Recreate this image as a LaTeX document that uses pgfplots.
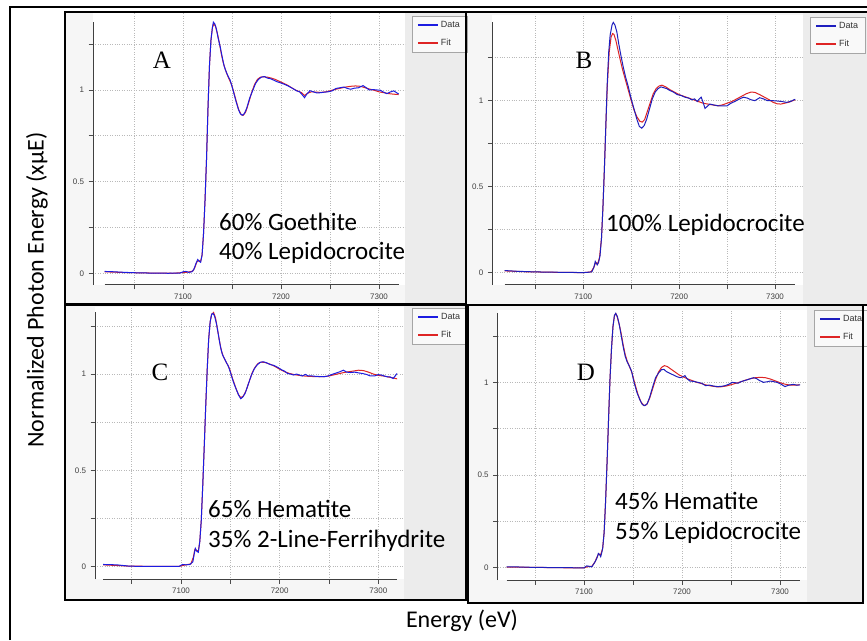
\documentclass[border=0pt]{standalone}
\usepackage{pgfplots}
\pgfplotsset{compat=1.18}
\usepackage{fontspec}
\setmainfont{Carlito}
\newfontfamily\tickfont{Liberation Sans}
\newfontfamily\letterfont{Liberation Serif}

\definecolor{datablue}{RGB}{28,28,225}
\definecolor{datanavy}{RGB}{30,30,190}
\definecolor{fitred}{RGB}{222,36,36}
\definecolor{panelgray}{RGB}{246,246,246}
\definecolor{stripgray}{RGB}{236,236,236}
\definecolor{gridgray}{RGB}{185,185,185}

% XANES spectra: one table per series (energy in eV, normalized absorption)
\pgfplotstableread{
E mu
7020 0.010
7030 0.008
7040 0.005
7055 0.002
7070 0.001
7085 0.0
7097 0.001
7100 0.008
7103 0.010
7106 0.005
7109 0.008
7111 0.02
7113 0.05
7115 0.075
7116.5 0.065
7118 0.06
7119.5 0.10
7121 0.22
7122.5 0.40
7124 0.62
7125.5 0.90
7127 1.13
7128.5 1.27
7130 1.34
7131 1.37
7132.5 1.36
7134 1.335
7136 1.28
7138 1.235
7140 1.18
7142 1.13
7144 1.10
7146 1.075
7148 1.055
7150 1.02
7152 0.98
7154 0.94
7156.5 0.895
7158.5 0.87
7160.5 0.862
7162.5 0.87
7165 0.90
7168 0.955
7171 0.995
7174 1.035
7177 1.058
7180 1.07
7183 1.073
7186 1.065
7189 1.062
7192 1.055
7196 1.045
7200 1.038
7204 1.03
7208 1.02
7212 1.008
7216 0.995
7219 0.99
7221.5 0.975
7224 0.958
7226 0.975
7229.5 0.996
7233 0.99
7236.5 0.984
7240 0.985
7244 0.988
7248 0.99
7252 0.995
7256 1.008
7260 1.012
7264 1.016
7268 1.008
7271 1.004
7275 1.01
7279 1.012
7283.7 1.024
7287 1.012
7290 1.0
7294 1.002
7298 1.0
7301 0.999
7304 0.99
7308 0.98
7312 0.99
7315 0.995
7318 0.985
7320 0.978
}\dataA
\pgfplotstableread{
E mu
7020 0.008
7040 0.004
7070 0.001
7090 0.0
7100 0.004
7105 0.006
7110 0.012
7112 0.03
7114 0.06
7116 0.07
7118 0.065
7119.5 0.10
7121 0.22
7122.5 0.40
7124 0.62
7125.5 0.90
7127 1.13
7128.5 1.27
7130 1.34
7131.5 1.36
7133 1.35
7135 1.31
7137 1.26
7139 1.20
7141 1.15
7143 1.115
7145 1.085
7147 1.06
7149.5 1.03
7152 0.985
7154.5 0.935
7157 0.89
7159.5 0.865
7161.5 0.862
7164 0.88
7167 0.93
7170 0.985
7173 1.03
7176 1.058
7179 1.07
7182 1.072
7186 1.07
7190 1.065
7194 1.058
7198 1.048
7202 1.038
7206 1.028
7210 1.015
7214 1.002
7218 0.992
7221 0.985
7224 0.97
7227 0.982
7231 0.99
7236 0.988
7241 0.987
7246 0.99
7251 0.997
7256 1.004
7261 1.01
7266 1.016
7271 1.02
7276 1.022
7281 1.02
7286 1.012
7291 1.004
7296 0.997
7300 0.99
7305 0.985
7310 0.98
7315 0.977
7320 0.975
}\fitA
\pgfplotstableread{
E mu
7018 0.012
7030 0.008
7045 0.005
7060 0.003
7075 0.002
7090 0.001
7100 0.000
7105 0.002
7109 0.005
7111 0.03
7112.5 0.065
7114.5 0.045
7116 0.06
7117.5 0.10
7119 0.20
7120.5 0.38
7122 0.60
7123.5 0.85
7125 1.10
7126.5 1.28
7128 1.38
7130 1.44
7131.3 1.455
7133 1.44
7135 1.40
7137 1.33
7139 1.27
7141.5 1.20
7144 1.14
7147 1.08
7150 1.01
7153 0.95
7156 0.89
7158.5 0.85
7161 0.84
7163.5 0.855
7166 0.89
7169 0.95
7172 1.01
7175 1.05
7178 1.07
7181 1.08
7184 1.075
7187 1.07
7190 1.06
7194 1.05
7198 1.035
7202 1.03
7206 1.02
7210 1.015
7213 1.005
7216 1.01
7219 0.995
7221 1.01
7223 1.02
7225 0.99
7227 0.955
7229 0.965
7232 0.98
7236 0.975
7241 0.97
7246 0.97
7250 0.97
7254 0.985
7258 0.995
7263 1.01
7267 1.02
7271 1.015
7275 1.005
7279 1.0
7284 1.017
7288 1.01
7292 1.0
7297 1.0
7302 0.998
7307 0.995
7312 0.99
7316 0.995
7321 1.008
}\dataB
\pgfplotstableread{
E mu
7018 0.010
7040 0.005
7070 0.002
7100 0.000
7108 0.004
7111 0.03
7113 0.06
7115 0.05
7117 0.09
7119 0.20
7120.5 0.38
7122 0.60
7123.5 0.85
7125 1.08
7127 1.28
7129 1.37
7130.6 1.39
7132 1.385
7134 1.35
7136 1.30
7138 1.25
7141 1.18
7144 1.12
7147 1.06
7150 1.00
7153 0.945
7156 0.905
7159 0.88
7161.5 0.875
7164 0.89
7167 0.94
7170 0.99
7173 1.04
7176 1.07
7179 1.085
7182 1.09
7186 1.08
7190 1.065
7195 1.05
7200 1.035
7205 1.025
7210 1.015
7215 1.005
7220 0.995
7225 0.985
7230 0.98
7235 0.975
7240 0.97
7245 0.975
7250 0.985
7255 0.995
7260 1.01
7265 1.025
7270 1.04
7275 1.05
7279 1.048
7284 1.035
7289 1.02
7294 1.005
7298 0.99
7302 0.982
7306 0.98
7310 0.985
7315 0.992
7321 1.005
}\fitB
\pgfplotstableread{
E mu
7021 0.012
7035 0.010
7048 0.003
7065 0.002
7085 0.002
7098 0.002
7101.5 0.012
7105 0.010
7109 0.012
7112 0.026
7113.5 0.07
7114.5 0.095
7116 0.08
7117.5 0.075
7119 0.13
7120.5 0.24
7122 0.42
7123.5 0.62
7125 0.83
7126.5 1.02
7128 1.18
7129.5 1.27
7131 1.31
7132.5 1.315
7134 1.30
7136 1.26
7138 1.20
7140 1.14
7142 1.10
7144 1.08
7146 1.06
7148 1.04
7150 1.01
7153 0.96
7156 0.92
7158.5 0.89
7160.5 0.872
7162.5 0.88
7165 0.90
7168 0.945
7171 0.99
7174 1.025
7177 1.047
7180 1.06
7183 1.064
7186 1.06
7190 1.05
7194 1.045
7198 1.035
7202 1.022
7205 1.015
7208 1.003
7211 1.0
7214 0.995
7217 1.0
7220 0.995
7223 0.99
7226 0.998
7229 0.99
7233 0.99
7237 0.988
7241 0.987
7245 0.986
7249 0.99
7253 0.998
7257 1.005
7261 1.012
7264.5 1.02
7268 1.01
7272 1.008
7276 1.01
7280 1.006
7284 1.003
7288 0.998
7292 0.99
7296 0.99
7300 0.997
7303 0.995
7306 0.99
7309 0.986
7312 0.985
7315 0.977
7317 0.99
7319 1.003
}\dataC
\pgfplotstableread{
E mu
7021 0.010
7045 0.004
7070 0.002
7098 0.002
7103 0.008
7110 0.015
7112.5 0.05
7114 0.09
7116 0.085
7117.5 0.08
7119 0.13
7120.5 0.24
7122 0.42
7123.5 0.62
7125 0.83
7126.5 1.02
7128 1.18
7129.5 1.27
7131 1.31
7133 1.32
7135 1.29
7137 1.23
7139 1.17
7141 1.12
7143 1.09
7146 1.06
7149 1.03
7152 0.98
7155 0.935
7158 0.895
7160.5 0.878
7163 0.885
7166 0.915
7169 0.96
7172 1.005
7175 1.035
7178 1.055
7181 1.062
7185 1.06
7190 1.052
7195 1.04
7200 1.025
7205 1.012
7210 1.003
7215 0.997
7220 0.993
7225 0.99
7230 0.988
7235 0.987
7240 0.986
7245 0.987
7250 0.99
7255 0.996
7260 1.002
7265 1.008
7270 1.012
7275 1.016
7280 1.02
7285 1.018
7290 1.01
7295 1.0
7300 0.993
7305 0.99
7310 0.985
7315 0.98
7319 0.975
}\fitC
\pgfplotstableread{
E mu
7021 0.005
7035 0.004
7050 0.002
7070 0.001
7090 0.0
7100 0.0
7102.7 0.01
7105 0.008
7108 0.005
7111 0.03
7113 0.05
7114.6 0.077
7116 0.07
7117 0.06
7118 0.08
7119 0.104
7120.5 0.19
7122 0.36
7123.5 0.57
7125 0.80
7126.5 1.02
7128 1.18
7129.5 1.30
7131 1.36
7132.3 1.372
7134 1.355
7136 1.31
7138 1.25
7140 1.19
7142 1.14
7144 1.11
7146 1.09
7148.5 1.06
7151 1.00
7154 0.945
7157 0.905
7159.5 0.88
7162 0.874
7164.5 0.885
7167 0.92
7170 0.975
7173 1.025
7176 1.05
7179 1.068
7181.5 1.07
7184 1.058
7187 1.05
7191 1.04
7195 1.03
7198 1.025
7201 1.03
7203 1.036
7205 1.02
7208 1.007
7212 1.005
7216 1.0
7220 0.995
7224 0.982
7228 0.985
7232 0.98
7236 0.977
7240 0.978
7244 0.982
7248 0.99
7251 1.0
7254 0.998
7257 0.995
7261 1.005
7266 1.013
7270 1.02
7273 1.025
7276 1.02
7279 1.01
7283 1.0
7287 1.003
7290 1.007
7294 1.003
7297 1.0
7301 0.99
7305 0.977
7309 0.985
7313.6 0.989
7317 0.985
7320.4 0.986
}\dataD
\pgfplotstableread{
E mu
7021 0.004
7050 0.002
7080 0.0
7100 0.0
7104 0.006
7108 0.008
7111 0.03
7113 0.055
7115 0.075
7117 0.07
7119 0.105
7120.5 0.19
7122 0.36
7123.5 0.57
7125 0.80
7126.5 1.02
7128 1.18
7129.5 1.30
7131 1.36
7132.5 1.37
7134 1.35
7136 1.31
7138 1.26
7140 1.20
7142 1.15
7144 1.115
7146 1.09
7149 1.05
7152 0.99
7155 0.935
7158 0.895
7161 0.875
7164 0.88
7167 0.915
7170 0.965
7173 1.015
7176 1.055
7179 1.08
7182 1.09
7185 1.085
7189 1.07
7193 1.055
7197 1.04
7201 1.03
7205 1.02
7210 1.01
7215 1.0
7220 0.993
7225 0.985
7230 0.98
7235 0.976
7240 0.976
7245 0.98
7250 0.987
7255 0.995
7260 1.003
7265 1.012
7270 1.02
7275 1.025
7280 1.027
7285 1.025
7290 1.018
7295 1.008
7300 0.998
7305 0.99
7310 0.985
7315 0.985
7320 0.986
}\fitD

\tikzset{
  axisline/.style={black!75, line width=1pt},
  letter/.style={font=\letterfont\fontsize{25}{25}\selectfont},
  mix/.style={anchor=base west, inner sep=0pt, font=\fontsize{25}{29}\selectfont},
}

\pgfplotsset{
  xanes/.style={
    scale only axis,
    anchor=south west,
    clip=false,
    axis background/.style={fill=white},
    axis line style={draw=none},
    tick align=outside,
    xtick pos=bottom, ytick pos=left,
    xtick={7100,7200,7300}, xticklabels={7100,7200,7300},
    minor xtick={7050,7150,7250},
    ytick={0,0.5,1}, yticklabels={0,0.5,1},
    minor ytick={0.25,0.75,1.25},
    grid=both,
    major grid style={gridgray, dotted, line width=0.6pt},
    minor grid style={gridgray, dotted, line width=0.6pt},
    major tick length=4.5pt, minor tick length=4.5pt,
    every tick/.style={black!70, line width=0.7pt},
    every minor tick/.style={black!70, line width=0.7pt},
    tick label style={font=\tickfont\fontsize{8}{9}\selectfont, text=black!75},
    xticklabel style={yshift=-1pt},
    yticklabel style={xshift=-1pt},
    reverse legend,
    legend cell align=left,
    legend image code/.code={\draw[#1, line width=1.8pt] (0pt,0pt) -- (20pt,0pt);},
    legend style={anchor=north west, draw=gray!70, fill=gray!5,
      font=\tickfont\fontsize{9}{10}\selectfont, text=black!80,
      inner xsep=5pt, inner ysep=3pt, row sep=6pt},
  },
  fitline/.style={fitred, line width=1pt},
  dataline/.style={datablue, line width=1pt},
  datanavyline/.style={datanavy, line width=1pt},
}

\begin{document}
\begin{tikzpicture}[x=1pt, y=1pt]
\clip (0,0) rectangle (867,640);

% panel backgrounds with the grey strip that holds each legend
\fill[panelgray] (65,336) rectangle (466,628);
\fill[stripgray] (405,336) rectangle (466,628);
\fill[panelgray] (466,335) rectangle (867,628);
\fill[stripgray] (803,335) rectangle (867,628);
\fill[panelgray] (65,40) rectangle (466,335);
\fill[stripgray] (404,40) rectangle (466,335);
\fill[panelgray] (468,37) rectangle (863,335);
\fill[stripgray] (806.7,37) rectangle (863,335);

% A
\begin{axis}[xanes, at={(93pt,355pt)}, width=312pt, height=272pt,
  xmin=7008.2, xmax=7326.5, ymin=-0.064, ymax=1.42,
  legend style={at={(1.022,0.989)}}]
\addplot[fitline] table[x=E, y=mu] {\fitA};
\addplot[dataline] table[x=E, y=mu] {\dataA};
\legend{Fit, Data}
\draw[axisline] (axis cs:7008.2,-0.064) -- (axis cs:7008.2,1.37);
\draw[axisline] (axis cs:7020,-0.064) -- (axis cs:7320,-0.064);
\end{axis}

% B
\begin{axis}[xanes, at={(492.3pt,355pt)}, width=310.7pt, height=270pt,
  xmin=7005.1, xmax=7329.2, ymin=-0.072, ymax=1.498,
  legend style={at={(1.0225,0.993)}}]
\addplot[fitline] table[x=E, y=mu] {\fitB};
\addplot[datanavyline] table[x=E, y=mu] {\dataB};
\legend{Fit, Data}
\draw[axisline] (axis cs:7005.1,-0.072) -- (axis cs:7005.1,1.455);
\draw[axisline] (axis cs:7018,-0.072) -- (axis cs:7321,-0.072);
\end{axis}

% C
\begin{axis}[xanes, at={(95pt,60.7pt)}, width=309pt, height=272.3pt,
  xmin=7012.8, xmax=7326, ymin=-0.065, ymax=1.348,
  legend style={at={(1.026,0.996)}}]
\addplot[fitline] table[x=E, y=mu] {\fitC};
\addplot[dataline] table[x=E, y=mu] {\dataC};
\legend{Fit, Data}
\draw[axisline] (axis cs:7012.8,-0.065) -- (axis cs:7012.8,1.32);
\draw[axisline] (axis cs:7021,-0.065) -- (axis cs:7319,-0.065);
\end{axis}

% D
\begin{axis}[xanes, at={(497.7pt,60pt)}, width=309pt, height=270pt,
  xmin=7011.9, xmax=7327.2, ymin=-0.066, ymax=1.39,
  legend style={at={(1.0236,1.0)}}]
\addplot[fitline] table[x=E, y=mu] {\fitD};
\addplot[datanavyline] table[x=E, y=mu] {\dataD};
\legend{Fit, Data}
\draw[axisline] (axis cs:7011.9,-0.066) -- (axis cs:7011.9,1.375);
\draw[axisline] (axis cs:7021,-0.066) -- (axis cs:7320,-0.066);
\end{axis}

% panel frames and outer frame
\draw[black, line width=1.8pt] (65,336) rectangle (466,628);
\draw[black, line width=1.8pt] (466,335) -- (466,628) -- (867,628);
\draw[black, line width=1.8pt] (466,335) -- (867,335);
\draw[black, line width=1.8pt] (65,40) rectangle (466,335);
\draw[black, line width=1.8pt] (468,37) rectangle (863,335);
\draw[black, line width=2.5pt] (10,0) -- (10,633) -- (867,633);

% panel letters
\node[letter] at (162,580) {A};
\node[letter] at (584,580) {B};
\node[letter] at (160,268) {C};
\node[letter] at (586,268) {D};

% fitted compositions
\node[mix] at (219,409) {60\% Goethite};
\node[mix] at (219,380) {40\% Lepidocrocite};
\node[mix] at (606,408) {100\% Lepidocrocite};
\node[mix] at (208,122) {65\% Hematite};
\node[mix] at (208,93) {35\% 2-Line-Ferrihydrite};
\node[mix] at (615,130) {45\% Hematite};
\node[mix] at (615,101) {55\% Lepidocrocite};

% shared axis titles
\node[rotate=90, font=\fontsize{24}{28}\selectfont] at (37,350) {Normalized Photon Energy (xµE)};
\node[font=\fontsize{24}{28}\selectfont] at (462,19) {Energy (eV)};
\end{tikzpicture}
\end{document}
